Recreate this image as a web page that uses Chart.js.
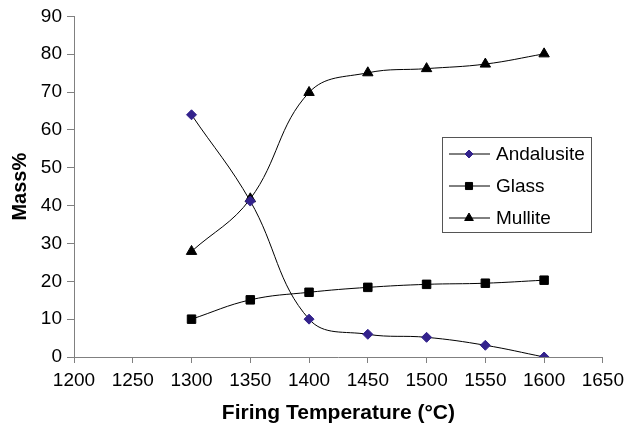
<!DOCTYPE html>
<html>
<head>
<meta charset="utf-8">
<script src="https://cdn.jsdelivr.net/npm/chart.js@4"></script>
<style>
  html, body { margin: 0; padding: 0; background: #fff; }
  #wrap { width: 630px; height: 430px; }
</style>
</head>
<body>
<div id="wrap"><canvas id="chart" width="630" height="430"></canvas></div>
<script>
const temps = [1300, 1350, 1400, 1450, 1500, 1550, 1600];
const andalusite = [64, 41.2, 10, 6, 5.2, 3.1, 0];
const glass = [10, 15.1, 17.1, 18.4, 19.2, 19.5, 20.3];
const mullite = [27.9, 41.8, 69.9, 75.1, 76.2, 77.4, 80.1];
const xTicks = [1200, 1250, 1300, 1350, 1400, 1450, 1500, 1550, 1600, 1650];

const font = "'Liberation Sans', Arial, sans-serif";
const pts = arr => temps.map((t, i) => ({ x: t, y: arr[i] }));

// legend drawn inside the plot, like the original
const boxLegend = {
  id: "boxLegend",
  afterDraw(c) {
    const ctx = c.ctx;
    const x0 = 442, y0 = 137, w = 149, h = 95;
    ctx.save();
    ctx.fillStyle = "#fff";
    ctx.fillRect(x0, y0, w, h);
    ctx.strokeStyle = "#555";
    ctx.lineWidth = 1;
    ctx.strokeRect(x0 + 0.5, y0 + 0.5, w, h);
    ctx.font = "19px " + font;
    ctx.textBaseline = "middle";
    c.data.datasets.forEach((ds, i) => {
      const y = y0 + 17 + i * 32;
      ctx.strokeStyle = "#000";
      ctx.beginPath();
      ctx.moveTo(x0 + 7, y);
      ctx.lineTo(x0 + 48, y);
      ctx.stroke();
      ctx.fillStyle = ds.pointBackgroundColor;
      ctx.strokeStyle = ds.pointBorderColor;
      Chart.helpers.drawPoint(ctx, {
        pointStyle: ds.pointStyle, radius: ds.pointRadius - 1, borderWidth: 1
      }, x0 + 27, y);
      ctx.fillStyle = "#000";
      ctx.fillText(ds.label, x0 + 54, y + 1);
    });
    ctx.restore();
  }
};

new Chart(document.getElementById("chart"), {
  type: "line",
  data: {
    datasets: [
      { label: "Andalusite", data: pts(andalusite), pointStyle: "rectRot",
        pointRadius: 5, pointBackgroundColor: "#33228c", pointBorderColor: "#33228c" },
      { label: "Glass", data: pts(glass), pointStyle: "rect",
        pointRadius: 6, pointBackgroundColor: "#000", pointBorderColor: "#000" },
      { label: "Mullite", data: pts(mullite), pointStyle: "triangle",
        pointRadius: 6, pointBackgroundColor: "#000", pointBorderColor: "#000" },
    ].map(d => Object.assign(d, {
      borderColor: "#000", borderWidth: 1, tension: 0.4, fill: false, pointBorderWidth: 1
    }))
  },
  options: {
    responsive: false,
    animation: false,
    layout: { padding: { top: 14, right: 24, left: 0, bottom: 0 } },
    plugins: { legend: { display: false }, tooltip: { enabled: false } },
    scales: {
      x: {
        type: "linear", min: 1200, max: 1650,
        afterBuildTicks: s => { s.ticks = xTicks.map(v => ({ value: v })); },
        afterFit: s => { s.height = 73; },
        grid: { drawOnChartArea: false, drawTicks: true, tickLength: 6, color: "#808080" },
        border: { color: "#808080" },
        ticks: { color: "#000", font: { family: font, size: 19 }, maxRotation: 0, padding: 6,
                 callback: v => String(v) },
        title: { display: true, text: "Firing Temperature (°C)", color: "#000",
                 font: { family: font, size: 21, weight: "bold" }, padding: { top: 3 } }
      },
      y: {
        min: 0, max: 90,
        afterFit: s => { s.width = 74; },
        ticks: { stepSize: 10, color: "#000", font: { family: font, size: 19 }, padding: 5 },
        grid: { drawOnChartArea: false, drawTicks: true, tickLength: 7, color: "#808080" },
        border: { color: "#808080" },
        title: { display: true, text: "Mass%", color: "#000",
                 font: { family: font, size: 20, weight: "bold" }, padding: { top: 8 } }
      }
    }
  },
  plugins: [boxLegend]
});
</script>
</body>
</html>
